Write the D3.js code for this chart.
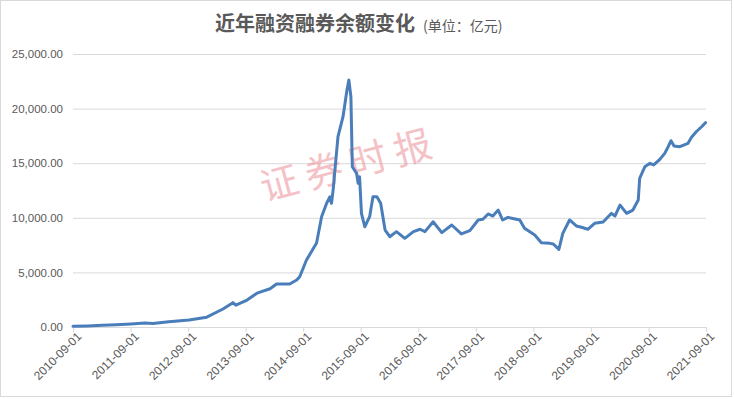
<!DOCTYPE html>
<html>
<head>
<meta charset="utf-8">
<script src="https://cdn.jsdelivr.net/npm/d3@7"></script>
<style>
  body { margin: 0; background: #fff; }
  svg { display: block; font-family: "Liberation Sans", Arial, sans-serif; }
</style>
</head>
<body>
<div id="chart-wrap"></div>
<script>
// data (亿元)
const dates = [
  "2010-09-01","2010-12-01","2011-03-08","2011-06-01","2011-09-04","2011-12-01","2012-01-21",
  "2012-05-01","2012-09-07","2012-12-28","2013-04-10","2013-06-12","2013-07-01","2013-09-10",
  "2013-11-12","2014-02-03","2014-03-16","2014-06-07","2014-07-22","2014-08-10","2014-09-22",
  "2014-11-25","2014-12-27","2015-01-28","2015-02-18","2015-02-28","2015-03-10","2015-04-10",
  "2015-05-12","2015-06-06","2015-06-18","2015-07-01","2015-07-10","2015-08-06","2015-08-16",
  "2015-08-25","2015-09-06","2015-09-27","2015-10-28","2015-11-18","2015-12-13","2016-01-06",
  "2016-02-03","2016-03-04","2016-04-15","2016-06-07","2016-08-01","2016-09-12","2016-10-13",
  "2016-12-04","2017-01-28","2017-04-01","2017-06-01","2017-07-25","2017-09-16","2017-10-16",
  "2017-11-18","2017-12-18","2018-01-21","2018-02-18","2018-03-24","2018-06-07","2018-07-07",
  "2018-09-10","2018-10-22","2018-12-15","2019-01-06","2019-02-10","2019-03-07","2019-04-19",
  "2019-06-01","2019-07-04","2019-08-13","2019-09-25","2019-11-18","2020-01-10","2020-02-01",
  "2020-03-04","2020-04-15","2020-05-25","2020-06-28","2020-07-07","2020-08-09","2020-09-10",
  "2020-10-04","2020-11-12","2020-12-13","2021-01-04","2021-01-22","2021-02-10","2021-03-19",
  "2021-05-10","2021-06-01","2021-07-01","2021-08-04","2021-08-29"
];
const balance = [
  60,100,150,200,270,360,320,
  480,640,900,1650,2230,2000,2470,
  3100,3500,3940,3940,4300,4600,6130,
  7690,10100,11330,11930,11330,12540,17430,
  19260,21700,22620,21090,14680,14070,13160,
  13760,10410,9180,10100,11930,11930,11330,
  8880,8270,8730,8120,8730,8950,8730,
  9640,8640,9340,8520,8820,9800,9860,
  10350,10160,10710,9800,10040,9800,9040,
  8420,7720,7660,7600,7110,8580,9800,
  9250,9130,8950,9500,9620,10410,10160,
  11170,10410,10710,11630,13620,14680,14990,
  14840,15350,15900,16510,17060,16580,16510,
  16820,17370,17880,18340,18710
];
const yTicks = [0, 5000, 10000, 15000, 20000, 25000];
const xTickLabels = ["2010-09-01","2011-09-01","2012-09-01","2013-09-01","2014-09-01","2015-09-01",
  "2016-09-01","2017-09-01","2018-09-01","2019-09-01","2020-09-01","2021-09-01"];

const width = 734, height = 399;
const margin = {top: 54, right: 28, bottom: 72, left: 73};
const parse = d3.timeParse("%Y-%m-%d");

let svg = d3.select("#chart-wrap").append("svg")
  .attr("width", width)
  .attr("height", height);

// outer frame
svg.append("rect")
  .attr("x", 0.5).attr("y", 0.5)
  .attr("width", width - 3).attr("height", height - 3)
  .attr("fill", "#fff").attr("stroke", "#d9d9d9");

let x = d3.scaleTime()
  .domain([parse(xTickLabels[0]), parse(xTickLabels[xTickLabels.length - 1])])
  .range([margin.left, width - margin.right]);

let y = d3.scaleLinear()
  .domain([0, 25000])
  .range([height - margin.bottom, margin.top]);

// gridlines + y labels
let yAxis = svg.append("g")
  .attr("transform", "translate(" + margin.left + ",0)")
  .call(d3.axisLeft(y).tickValues(yTicks)
    .tickSize(-(width - margin.left - margin.right))
    .tickPadding(10)
    .tickFormat(d3.format(",.2f")));
yAxis.select(".domain").remove();
yAxis.selectAll(".tick line").attr("stroke", "#d9d9d9");
yAxis.selectAll(".tick text")
  .attr("fill", "#595959")
  .style("font-size", "11.5px");

// x axis
let xAxis = svg.append("g")
  .attr("transform", "translate(0," + (height - margin.bottom) + ")")
  .call(d3.axisBottom(x).tickValues(xTickLabels.map(parse))
    .tickSize(5)
    .tickSizeOuter(0)
    .tickFormat(d3.timeFormat("%Y-%m-%d")));
xAxis.select(".domain").attr("stroke", "#d9d9d9");
xAxis.selectAll(".tick line").attr("stroke", "#d9d9d9");
xAxis.selectAll(".tick text")
  .attr("fill", "#595959")
  .style("font-size", "12px")
  .attr("text-anchor", "end")
  .attr("dx", "-0.1em")
  .attr("dy", "0.45em")
  .attr("transform", "rotate(-45)");

// watermark
svg.append("text")
  .attr("x", 350).attr("y", 178)
  .attr("text-anchor", "middle")
  .attr("transform", "rotate(-15, 350, 165)")
  .attr("fill", "#ec8f98")
  .attr("opacity", 0.55)
  .style("font-family", "'Noto Sans CJK SC'")
  .style("font-weight", 400)
  .style("font-size", "38px")
  .style("letter-spacing", "8px")
  .text("证券时报");

// the line
let series = dates.map(function(d, i) { return {date: parse(d), value: balance[i]}; });
let lineGen = d3.line()
  .x(function(d) { return x(d.date); })
  .y(function(d) { return y(d.value); });

svg.append("path")
  .datum(series)
  .attr("d", lineGen)
  .attr("fill", "none")
  .attr("stroke", "#4a7ebb")
  .attr("stroke-width", 3)
  .attr("stroke-linejoin", "round")
  .attr("stroke-linecap", "round");

// title
let title = svg.append("text")
  .attr("x", 215).attr("y", 31)
  .attr("fill", "#595959");
title.append("tspan")
  .style("font-family", "'Noto Sans CJK SC'")
  .style("font-weight", "bold")
  .style("font-size", "20px")
  .text("近年融资融券余额变化");
title.append("tspan")
  .attr("dx", 8)
  .style("font-family", "'Noto Sans CJK SC'")
  .style("font-size", "14px")
  .text("(单位：亿元)");
</script>
</body>
</html>
